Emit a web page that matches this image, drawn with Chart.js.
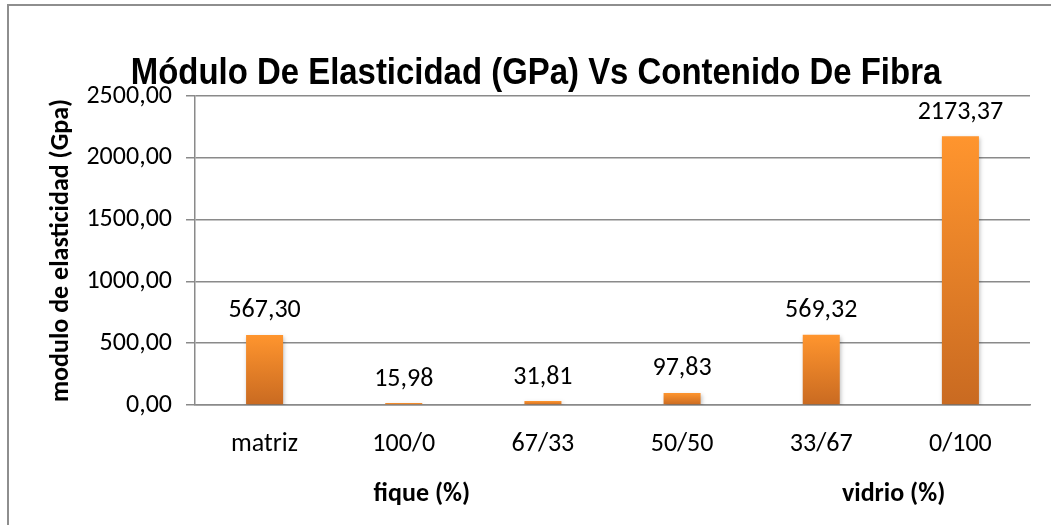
<!DOCTYPE html>
<html>
<head>
<meta charset="utf-8">
<script src="https://cdn.jsdelivr.net/npm/chart.js@4.4.1/dist/chart.umd.min.js"></script>
<style>
  html, body { margin: 0; padding: 0; background: #fff; }
  #wrap { width: 1051px; height: 525px; position: relative; }
</style>
</head>
<body>
<div id="wrap"><canvas id="chart" width="1051" height="525"></canvas></div>
<script>
// data
const categories = ['matriz', '100/0', '67/33', '50/50', '33/67', '0/100'];
const modulo = [567.30, 15.98, 31.81, 97.83, 569.32, 2173.37];
const yTicks = [0, 500, 1000, 1500, 2000, 2500];
const groupLabels = ['fique (%)', 'vidrio (%)'];
const groupPos = [1.13, 4.52]; // position along the category axis

const TITLE = 'Módulo De Elasticidad (GPa) Vs Contenido De Fibra';
const bodyFont = 'Carlito, Lato, "Open Sans", sans-serif';

// comma decimals like the spreadsheet
function fmt(v) {
  return v.toFixed(2).replace('.', ',');
}

// each bar gets its own vertical gradient (light orange top -> darker bottom)
function barGradient(ctx) {
  const chart = ctx.chart;
  if (!chart.chartArea || ctx.type !== 'data') return '#f08a2c';
  const y = chart.scales.y;
  const top = y.getPixelForValue(modulo[ctx.dataIndex]);
  const bottom = y.getPixelForValue(0);
  const g = chart.ctx.createLinearGradient(0, top, 0, bottom);
  g.addColorStop(0, '#ff952e');
  g.addColorStop(1, '#c96a21');
  return g;
}

// frame, title, bar labels and group captions
const extras = {
  id: 'extras',
  beforeDraw(chart) {
    const c = chart.ctx;
    c.save();
    c.strokeStyle = '#8e8e8e';
    c.lineWidth = 2;
    c.strokeRect(8, 5, 1080, 560);
    c.restore();
  },
  beforeDatasetsDraw(chart) {
    const c = chart.ctx;
    c.save();
    c.shadowColor = 'rgba(0,0,0,0.25)';
    c.shadowBlur = 4;
    c.shadowOffsetX = 1;
    c.shadowOffsetY = 2;
  },
  afterDatasetsDraw(chart) {
    const c = chart.ctx;
    c.restore();
    const meta = chart.getDatasetMeta(0);
    c.save();
    c.fillStyle = '#000';
    c.font = '26px ' + bodyFont;
    c.textAlign = 'center';
    c.textBaseline = 'middle';
    meta.data.forEach((bar, i) => {
      c.fillText(fmt(modulo[i]), bar.x, bar.y - 24);
    });

    // title, slightly condensed
    c.font = 'bold 37px "Liberation Sans", Arial, sans-serif';
    c.textBaseline = 'alphabetic';
    c.translate(536, 84);
    c.scale(0.89, 1);
    c.fillText(TITLE, 0, 0);
    c.restore();

    c.save();
    c.fillStyle = '#000';
    c.font = 'bold 26px ' + bodyFont;
    c.textAlign = 'center';
    c.textBaseline = 'middle';
    const x = chart.scales.x;
    groupLabels.forEach((t, i) => {
      c.fillText(t, x.getPixelForValue(groupPos[i]), 494);
    });
    c.restore();
  }
};

new Chart(document.getElementById('chart'), {
  type: 'bar',
  data: {
    labels: categories,
    datasets: [{
      data: modulo,
      backgroundColor: barGradient,
      borderWidth: 0,
      categoryPercentage: 1,
      barPercentage: 0.266
    }]
  },
  options: {
    responsive: false,
    animation: false,
    layout: { padding: { top: 96, right: 21, bottom: 0, left: 0 } },
    plugins: {
      legend: { display: false },
      tooltip: { enabled: false },
      title: { display: false }
    },
    scales: {
      y: {
        min: 0,
        max: 2500,
        afterBuildTicks(scale) {
          scale.ticks = yTicks.map(v => ({ value: v }));
        },
        afterFit(scale) { scale.width = 195; },
        ticks: {
          color: '#000',
          font: { family: bodyFont, size: 26 },
          padding: 14,
          callback: v => fmt(v)
        },
        grid: { color: '#8a8a8a', lineWidth: 1.5, tickLength: 9 },
        border: { color: '#8a8a8a', width: 1.5 },
        title: {
          display: true,
          text: 'modulo de elasticidad (Gpa)',
          color: '#000',
          font: { family: bodyFont, size: 26, weight: 'bold' },
          padding: { top: 46, bottom: 0 }
        }
      },
      x: {
        afterFit(scale) { scale.height = 120; },
        ticks: {
          color: '#000',
          font: { family: bodyFont, size: 26 },
          padding: 16
        },
        grid: { display: false },
        border: { color: '#8a8a8a', width: 1.5 }
      }
    }
  },
  plugins: [extras]
});
</script>
</body>
</html>
